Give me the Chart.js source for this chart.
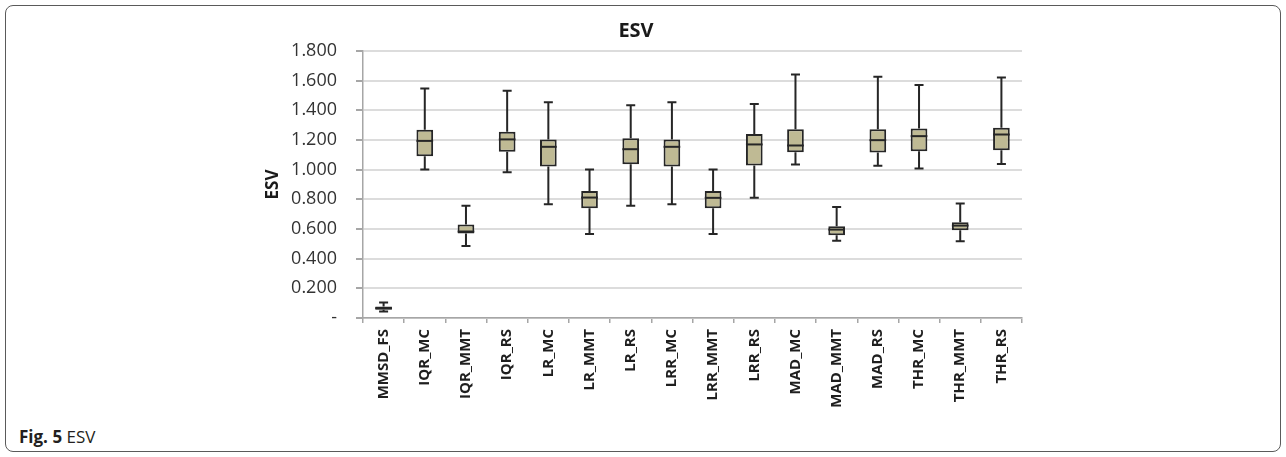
<!DOCTYPE html>
<html lang="en">

<head>
    <meta charset="UTF-8">
    <title>ESV</title>
    <style>
        body {
            margin: 0;
            background: #fff;
            font-family: "Open Sans", sans-serif;
        }

        #frame {
            position: absolute;
            left: 5px;
            top: 5px;
            width: 1274px;
            height: 445px;
            border: 1px solid #5a5a5a;
            border-radius: 8px;
        }

        #caption {
            position: absolute;
            left: 19px;
            top: 425px;
            font-size: 17px;
            color: #231f20;
        }

        #esvChart {
            position: absolute;
            left: 250px;
            top: 0;
        }
    </style>
    <script src="https://cdn.jsdelivr.net/npm/chart.js"></script>
</head>

<body>
    <div id="frame"></div>
    <div id="caption"><b>Fig. 5</b> ESV</div>
    <canvas id="esvChart" width="796" height="420"></canvas>

    <script>
        // box plot values
        const categories = ['MMSD_FS', 'IQR_MC', 'IQR_MMT', 'IQR_RS', 'LR_MC', 'LR_MMT', 'LR_RS', 'LRR_MC',
            'LRR_MMT', 'LRR_RS', 'MAD_MC', 'MAD_MMT', 'MAD_RS', 'THR_MC', 'THR_MMT', 'THR_RS'];
        const whiskerLow = [0.043, 1.001, 0.486, 0.983, 0.767, 0.567, 0.756, 0.767,
            0.567, 0.810, 1.035, 0.520, 1.026, 1.008, 0.518, 1.039];
        const q1 = [0.055, 1.091, 0.569, 1.120, 1.021, 0.740, 1.037, 1.021,
            0.740, 1.028, 1.118, 0.558, 1.116, 1.125, 0.592, 1.131];
        const median = [0.066, 1.194, 0.583, 1.204, 1.154, 0.812, 1.138, 1.154,
            0.810, 1.170, 1.163, 0.596, 1.199, 1.226, 0.623, 1.237];
        const q3 = [0.078, 1.269, 0.630, 1.255, 1.204, 0.857, 1.212, 1.204,
            0.857, 1.240, 1.273, 0.619, 1.273, 1.278, 0.646, 1.282];
        const whiskerHigh = [0.104, 1.548, 0.756, 1.532, 1.455, 1.001, 1.435, 1.455,
            1.001, 1.442, 1.642, 0.749, 1.626, 1.570, 0.772, 1.622];
        const yTicks = [0, 0.2, 0.4, 0.6, 0.8, 1.0, 1.2, 1.4, 1.6, 1.8];

        // whiskers + median drawn on top of the floating bars
        const boxPlotLines = {
            id: 'boxPlotLines',
            afterDatasetsDraw(chart) {
                const ctx = chart.ctx;
                const y = chart.scales.y;
                const meta = chart.getDatasetMeta(0);
                ctx.save();
                ctx.strokeStyle = '#262626';
                meta.data.forEach((bar, i) => {
                    const x = bar.x;
                    const half = bar.width / 2;
                    const cap = 4.5;
                    ctx.lineWidth = 2;
                    ctx.beginPath();
                    ctx.moveTo(x, y.getPixelForValue(q3[i]));
                    ctx.lineTo(x, y.getPixelForValue(whiskerHigh[i]));
                    ctx.moveTo(x, y.getPixelForValue(q1[i]));
                    ctx.lineTo(x, y.getPixelForValue(whiskerLow[i]));
                    ctx.moveTo(x - cap, y.getPixelForValue(whiskerHigh[i]));
                    ctx.lineTo(x + cap, y.getPixelForValue(whiskerHigh[i]));
                    ctx.moveTo(x - cap, y.getPixelForValue(whiskerLow[i]));
                    ctx.lineTo(x + cap, y.getPixelForValue(whiskerLow[i]));
                    ctx.stroke();
                    ctx.lineWidth = 2;
                    ctx.beginPath();
                    ctx.moveTo(x - half, y.getPixelForValue(median[i]));
                    ctx.lineTo(x + half, y.getPixelForValue(median[i]));
                    ctx.stroke();
                });
                ctx.restore();
            }
        };

        function createChart() {
            const ctx = document.getElementById('esvChart').getContext('2d');
            new Chart(ctx, {
                type: 'bar',
                data: {
                    labels: categories,
                    datasets: [{
                        label: 'ESV',
                        data: q1.map((v, i) => [v, q3[i]]),
                        backgroundColor: '#bfba94',
                        borderColor: '#262626',
                        borderWidth: 2,
                        borderSkipped: false,
                        categoryPercentage: 1,
                        barPercentage: 0.405
                    }]
                },
                options: {
                    responsive: false,
                    animation: false,
                    layout: {
                        padding: { left: 0, right: 24, top: 0, bottom: 0 }
                    },
                    plugins: {
                        legend: { display: false },
                        tooltip: { enabled: false },
                        title: {
                            display: true,
                            text: 'ESV',
                            color: '#1a1a1a',
                            font: { family: 'Open Sans', size: 20, weight: 'bold' },
                            padding: { top: 19, bottom: 8 }
                        }
                    },
                    scales: {
                        x: {
                            afterFit: (scale) => { scale.height = 102; },
                            border: { color: '#a6a6a6', width: 1.5 },
                            grid: {
                                drawOnChartArea: false,
                                tickLength: 5,
                                tickColor: '#a6a6a6',
                                lineWidth: 1.5
                            },
                            ticks: {
                                minRotation: 90,
                                maxRotation: 90,
                                padding: 6,
                                color: '#1f1f1f',
                                font: { family: 'Open Sans', size: 15, weight: 'bold' }
                            }
                        },
                        y: {
                            min: 0,
                            max: 1.8,
                            afterFit: (scale) => { scale.width = 113; },
                            afterBuildTicks: (scale) => {
                                scale.ticks = yTicks.map(v => ({ value: v }));
                            },
                            border: { color: '#a6a6a6', width: 1.5 },
                            grid: {
                                color: '#dcdcdc',
                                lineWidth: 2,
                                tickLength: 7,
                                tickColor: '#a6a6a6'
                            },
                            ticks: {
                                padding: 19,
                                color: '#333333',
                                font: { family: 'Open Sans', size: 18 },
                                callback: (v) => v === 0 ? '-' : v.toFixed(3)
                            },
                            title: {
                                display: true,
                                text: 'ESV',
                                color: '#1a1a1a',
                                font: { family: 'Open Sans', size: 17, weight: 'bold' },
                                padding: { top: 13, bottom: 0 }
                            }
                        }
                    }
                },
                plugins: [boxPlotLines]
            });
        }

        window.onload = function () {
            createChart();
        };
    </script>

</body>

</html>
